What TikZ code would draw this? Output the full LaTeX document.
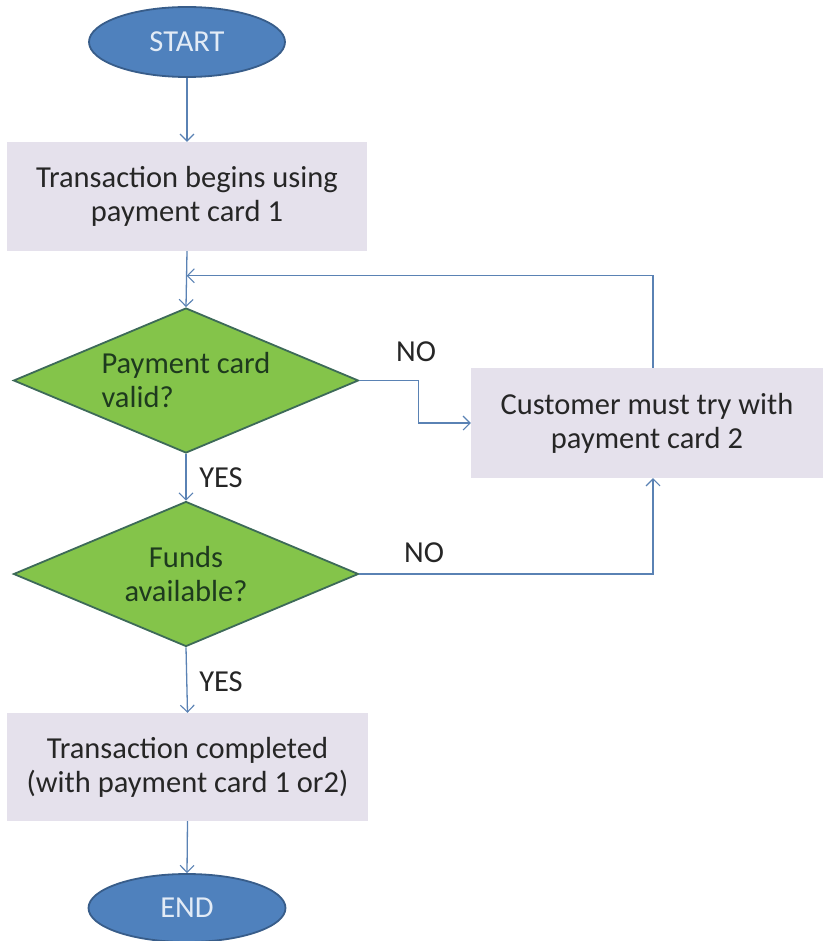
\documentclass[tikz,border=0pt]{standalone}
\usepackage{fontspec}
\setmainfont{Carlito}
\usetikzlibrary{shapes.geometric,arrows.meta,calc}
\definecolor{ellfill}{HTML}{4F81BD}
\definecolor{elldraw}{HTML}{385D8A}
\definecolor{elltext}{HTML}{E2EBF6}
\definecolor{boxfill}{HTML}{E5E1EC}
\definecolor{dfill}{HTML}{84C44A}
\definecolor{ddraw}{HTML}{3D6A58}
\definecolor{dtext}{HTML}{1E3A1E}
\definecolor{conn}{HTML}{5A82B4}
\begin{document}
\begin{tikzpicture}[x=1pt,y=-1pt,
  every node/.style={font=\fontsize{30.5}{34}\selectfont},
  term/.style={ellipse,fill=ellfill,draw=elldraw,line width=1.8pt,text=elltext,inner sep=0pt},
  procbox/.style={rectangle,fill=boxfill,draw=none,text=black!85,align=center,inner sep=0pt},
  decide/.style={diamond,aspect=2.38,fill=dfill,draw=ddraw,line width=1.8pt,text=dtext,inner sep=0pt,minimum width=345pt,minimum height=145pt},
  arr/.style={draw=conn,line width=1.3pt,-{Straight Barb[length=7pt,width=14pt,line width=1.1pt]}},
  lbl/.style={text=black!85,inner sep=0pt}]
\useasboundingbox (0,0) rectangle (822,941);
\node[term,minimum width=196pt,minimum height=70pt] (start) at (187,42) {START};
\node[procbox,minimum width=360pt,minimum height=109pt] (box1) at (187,196.5) {Transaction begins using\\payment card 1};
\node[decide,align=left] (d1) at (186,380.5) {Payment card\\valid?};
\node[procbox,minimum width=352pt,minimum height=110pt] (cust) at (647,423) {Customer must try with\\payment card 2};
\node[decide,align=center] (d2) at (186,574) {Funds\\available?};
\node[procbox,minimum width=361pt,minimum height=108pt] (box3) at (187.5,767) {Transaction completed\\(with payment card 1 or2)};
\node[term,minimum width=197pt,minimum height=68pt] (end) at (187,908) {END};

\draw[arr] (start.south) -- (box1.north);
\draw[arr] (box1.south) -- (d1.north);
\coordinate (loopend) at ($(box1.south)!0.44!(d1.north)$);
\draw[arr] ([xshift=6pt]cust.north) |- (loopend);
\draw[arr] (d1.east) -- ++(59,0) |- (cust.west);
\draw[arr] (d1.south) -- (d2.north);
\draw[arr] (d2.east) -| ([xshift=6pt]cust.south);
\draw[arr] (d2.south) -- (box3.north);
\draw[arr] (box3.south) -- (end.north);

\node[lbl] (no1) at (416,352) {NO};
\node[lbl] (no2) at (424,553) {NO};
\node[lbl] (yes1) at (221,478) {YES};
\node[lbl] (yes2) at (221,682) {YES};
\end{tikzpicture}
\end{document}
